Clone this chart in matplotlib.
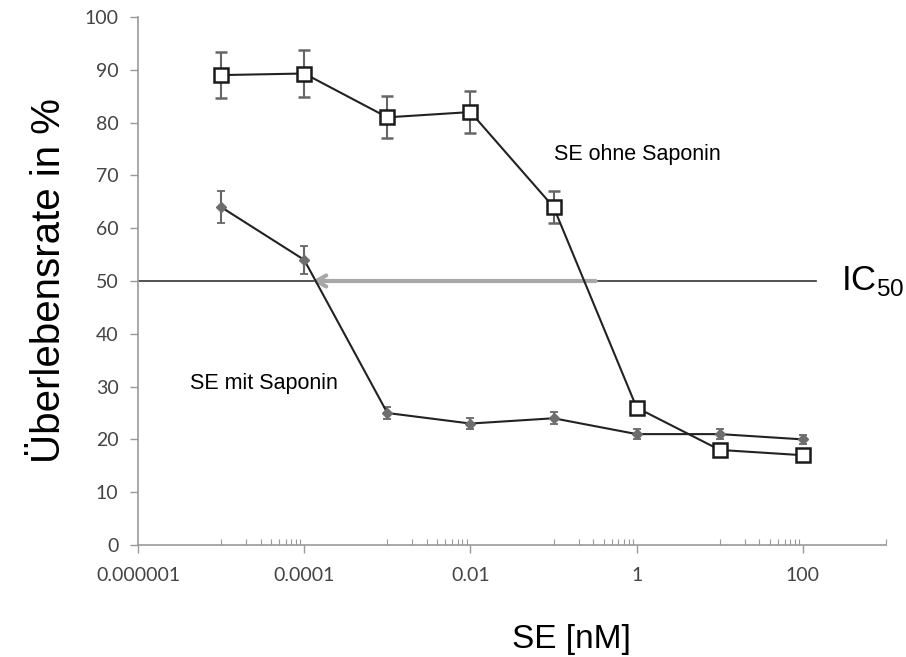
import numpy as np
import matplotlib
matplotlib.use("Agg")
import matplotlib.pyplot as plt
from matplotlib.ticker import FixedLocator, NullFormatter

# concentrations [nM]
conc = [1e-5, 1e-4, 1e-3, 1e-2, 1e-1, 1, 10, 100]

# SE ohne Saponin
ohne = [89, 89.3, 81, 82, 64, 26, 18, 17]
ohne_err = [4.4, 4.5, 4.0, 4.0, 3.0, 0.8, 0.8, 0.8]

# SE mit Saponin
mit = [64, 54, 25, 23, 24, 21, 21, 20]
mit_err = [3.0, 2.6, 1.2, 1.0, 1.1, 1.0, 1.0, 0.9]

ytick_vals = [0, 10, 20, 30, 40, 50, 60, 70, 80, 90, 100]
xtick_vals = [1e-6, 1e-4, 1e-2, 1, 100]
xtick_labels = ["0.000001", "0.0001", "0.01", "1", "100"]

plt.rcParams["mathtext.fontset"] = "custom"
plt.rcParams["mathtext.rm"] = "Liberation Sans"

fig = plt.figure(figsize=(9.06, 6.57), dpi=100)
ax = fig.add_axes([0.1523, 0.1705, 0.8257, 0.8036])

tick_font = "Lato"
txt_font = "Liberation Sans"

# IC50 line + arrow
ax.plot([1e-6, 144], [50, 50], color="#333333", lw=1.2, zorder=1, clip_on=False)
ax.annotate("", xy=(1.25e-4, 50), xytext=(0.32, 50),
            arrowprops=dict(arrowstyle="->,head_length=0.7,head_width=0.4",
                            color="#a8a8a8", lw=3, shrinkA=0, shrinkB=0),
            zorder=2)

ax.errorbar(conc, mit, yerr=mit_err, color="#222222", ecolor="#666666",
            elinewidth=1.5, capsize=3, capthick=1.3, lw=1.5,
            marker="D", ms=5, mfc="#6e6e6e", mec="#6e6e6e", zorder=3)
ax.errorbar(conc, ohne, yerr=ohne_err, color="#222222", ecolor="#666666",
            elinewidth=1.5, capsize=4, capthick=1.3, lw=1.5,
            marker="s", ms=10, mfc="white", mec="#1a1a1a", mew=1.8, zorder=4)

ax.set_xscale("log")
ax.set_xlim(1e-6, 1e3)
ax.set_ylim(0, 100)

ax.xaxis.set_major_locator(FixedLocator(xtick_vals))
ax.set_xticklabels(xtick_labels, fontfamily=tick_font, fontsize=14, color="#444444")
minor = [k * 10.0 ** e for e in (-5, -3, -1, 1) for k in range(1, 10)] + [1000]
ax.xaxis.set_minor_locator(FixedLocator(minor))
ax.xaxis.set_minor_formatter(NullFormatter())
ax.tick_params(axis="x", which="major", direction="out", length=6, width=1,
               color="#999999", pad=10)
ax.tick_params(axis="x", which="minor", direction="in", length=4, width=0.8,
               color="#999999")

ax.set_yticks(ytick_vals)
ax.set_yticklabels([str(v) for v in ytick_vals], fontfamily=tick_font,
                   fontsize=14, color="#444444")
ax.tick_params(axis="y", direction="out", length=6, width=1, color="#999999", pad=8)

for s in ["top", "right"]:
    ax.spines[s].set_visible(False)
for s in ["left", "bottom"]:
    ax.spines[s].set_color("#999999")
    ax.spines[s].set_linewidth(1.2)

ax.set_ylabel("Überlebensrate in %", fontfamily=txt_font, fontsize=29, labelpad=12)
ax.set_xlabel("SE [nM]", fontfamily=txt_font, fontsize=24, labelpad=18)
ax.xaxis.set_label_coords(0.579, -0.15)

ax.text(0.1, 74, "SE ohne Saponin", fontfamily=txt_font, fontsize=15.5,
        va="center", ha="left")
ax.text(4.2e-6, 30.5, "SE mit Saponin", fontfamily=txt_font, fontsize=15.5,
        va="center", ha="left")
ax.text(290, 50, r"$\mathrm{IC}_{50}$", fontsize=25, va="center", ha="left")

fig.savefig("out.png", dpi=100)
